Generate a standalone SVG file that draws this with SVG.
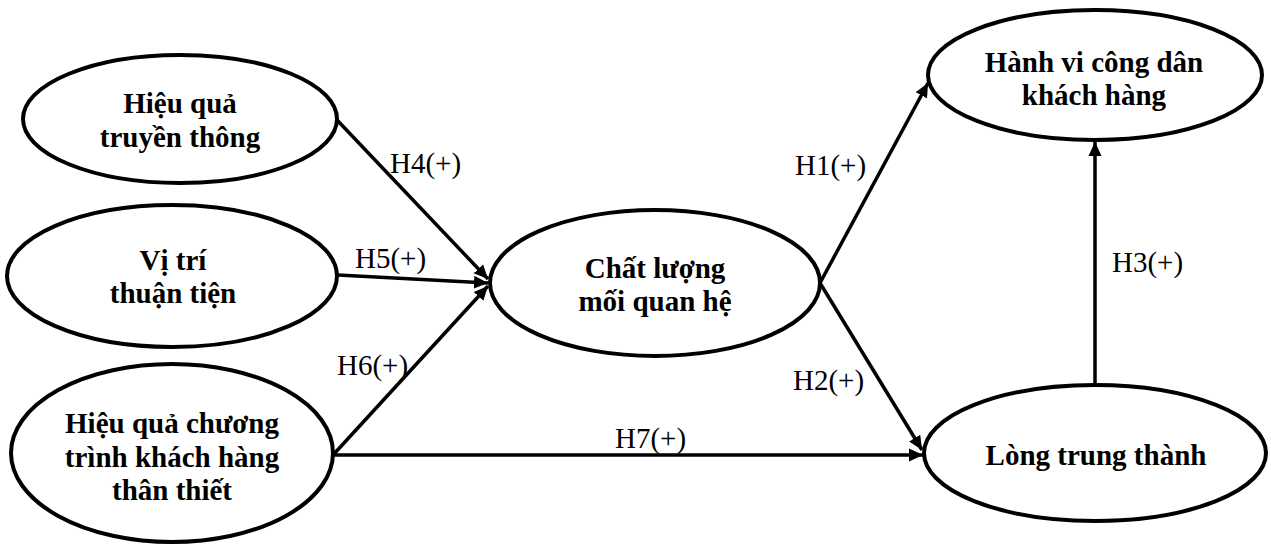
<svg xmlns="http://www.w3.org/2000/svg" width="1271" height="545" viewBox="0 0 1271 545" font-family="Liberation Serif, Times New Roman, DejaVu Serif, serif">
<style>
.node ellipse{fill:#fff;stroke:#000;stroke-width:4}
.node text{font-family:'Liberation Serif','DejaVu Serif',serif;font-weight:bold;font-size:29px;fill:#000;text-anchor:middle}
.lbl{font-family:'Liberation Serif','DejaVu Serif',serif;font-size:29px;fill:#000}
#connectors line{stroke:#000;stroke-width:3.5;marker-end:url(#arr)}
</style>
<defs>
<marker id="arr" markerUnits="userSpaceOnUse" markerWidth="16" markerHeight="14" refX="14" refY="7" orient="auto">
<path d="M0,0.5 L14,7 L0,13.5 z" fill="#000"/>
</marker>
</defs>
<rect width="1271" height="545" fill="#fff"/>
<g id="connectors">
<line x1="337" y1="120" x2="488" y2="279"/>
<line x1="338" y1="275" x2="488" y2="283"/>
<line x1="333" y1="455" x2="488" y2="286"/>
<line x1="333" y1="455" x2="923" y2="455"/>
<line x1="820" y1="283" x2="928" y2="83"/>
<line x1="820" y1="283" x2="922" y2="450"/>
<line x1="1095" y1="385" x2="1095" y2="142"/>
</g>
<g id="labels">
<text class="lbl" x="390" y="173">H4(+)</text>
<text class="lbl" x="355" y="268">H5(+)</text>
<text class="lbl" x="337" y="375">H6(+)</text>
<text class="lbl" x="615" y="448">H7(+)</text>
<text class="lbl" x="795" y="175">H1(+)</text>
<text class="lbl" x="793" y="390">H2(+)</text>
<text class="lbl" x="1112" y="272">H3(+)</text>
</g>
<g id="node-hieuqua-truyenthong" class="node">
<ellipse cx="180" cy="119" rx="157" ry="64"/>
<text x="180" y="113">Hiệu quả</text>
<text x="180" y="147">truyền thông</text>
</g>
<g id="node-vitri" class="node">
<ellipse cx="172" cy="276" rx="165" ry="71"/>
<text x="173" y="270">Vị trí</text>
<text x="173" y="303">thuận tiện</text>
</g>
<g id="node-chuongtrinh" class="node">
<ellipse cx="172" cy="453" rx="161" ry="89"/>
<text x="172" y="433">Hiệu quả chương</text>
<text x="172" y="467">trình khách hàng</text>
<text x="172" y="500">thân thiết</text>
</g>
<g id="node-chatluong" class="node">
<ellipse cx="655" cy="283" rx="165" ry="73"/>
<text x="655" y="278">Chất lượng</text>
<text x="655" y="311">mối quan hệ</text>
</g>
<g id="node-hanhvi" class="node">
<ellipse cx="1095" cy="75" rx="167" ry="65"/>
<text x="1094" y="72">Hành vi công dân</text>
<text x="1094" y="105">khách hàng</text>
</g>
<g id="node-longtrungthanh" class="node">
<ellipse cx="1095" cy="453" rx="171" ry="68"/>
<text x="1096" y="465">Lòng trung thành</text>
</g>
</svg>
